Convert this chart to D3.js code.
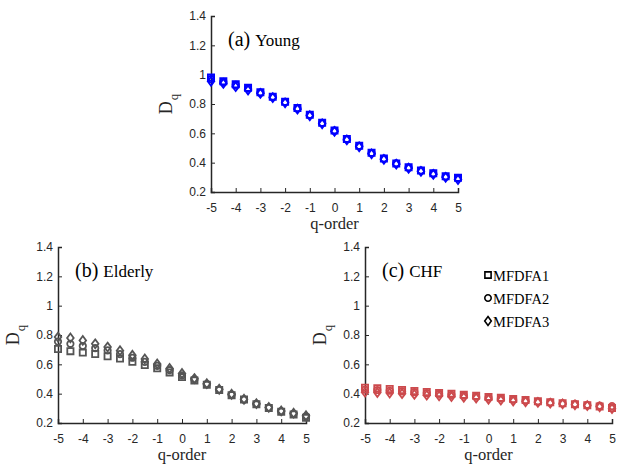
<!DOCTYPE html>
<html>
<head>
<meta charset="utf-8">
<script src="https://cdn.jsdelivr.net/npm/d3@7"></script>
<style>
  body { margin: 0; background: #fff; }
  svg { display: block; }
</style>
</head>
<body>
<svg id="chart" width="619" height="465"></svg>
<script>
// q values shared by all panels
const qValues = [-5, -4.5, -4, -3.5, -3, -2.5, -2, -1.5, -1, -0.5, 0, 0.5, 1, 1.5, 2, 2.5, 3, 3.5, 4, 4.5, 5];
const xTicks = [-5, -4, -3, -2, -1, 0, 1, 2, 3, 4, 5];
const yTicks = [0.2, 0.4, 0.6, 0.8, 1, 1.2, 1.4];
const methods = ["MFDFA1", "MFDFA2", "MFDFA3"];

// (a) Young
const youngM1 = [0.98, 0.955, 0.935, 0.91, 0.88, 0.85, 0.815, 0.772, 0.727, 0.672, 0.62, 0.562, 0.515, 0.467, 0.428, 0.395, 0.368, 0.347, 0.327, 0.307, 0.297];
const youngM2 = [0.97, 0.95, 0.93, 0.905, 0.878, 0.848, 0.813, 0.77, 0.725, 0.67, 0.618, 0.56, 0.515, 0.465, 0.428, 0.395, 0.367, 0.346, 0.325, 0.305, 0.295];
const youngM3 = [0.955, 0.94, 0.918, 0.895, 0.872, 0.843, 0.808, 0.765, 0.72, 0.665, 0.613, 0.555, 0.508, 0.46, 0.422, 0.39, 0.362, 0.34, 0.32, 0.3, 0.285];

// (b) Elderly
const elderlyM1 = [0.705, 0.69, 0.68, 0.67, 0.655, 0.64, 0.617, 0.595, 0.573, 0.545, 0.513, 0.49, 0.46, 0.425, 0.39, 0.36, 0.327, 0.302, 0.277, 0.258, 0.235];
const elderlyM2 = [0.755, 0.74, 0.725, 0.71, 0.695, 0.67, 0.645, 0.617, 0.59, 0.56, 0.525, 0.497, 0.465, 0.428, 0.393, 0.36, 0.33, 0.305, 0.28, 0.263, 0.245];
const elderlyM3 = [0.786, 0.78, 0.763, 0.74, 0.718, 0.693, 0.662, 0.637, 0.603, 0.572, 0.538, 0.503, 0.468, 0.43, 0.396, 0.362, 0.332, 0.306, 0.282, 0.267, 0.25];

// (c) CHF
const chfM1 = [0.44, 0.437, 0.432, 0.425, 0.418, 0.411, 0.405, 0.4, 0.392, 0.386, 0.378, 0.372, 0.363, 0.356, 0.348, 0.341, 0.334, 0.328, 0.321, 0.312, 0.302];
const chfM2 = [0.428, 0.425, 0.42, 0.415, 0.41, 0.404, 0.398, 0.392, 0.386, 0.38, 0.373, 0.367, 0.36, 0.353, 0.346, 0.34, 0.334, 0.33, 0.324, 0.318, 0.315];
const chfM3 = [0.41, 0.408, 0.404, 0.4, 0.395, 0.39, 0.385, 0.38, 0.375, 0.37, 0.362, 0.356, 0.35, 0.345, 0.34, 0.335, 0.33, 0.324, 0.318, 0.31, 0.298];

const panels = [
  { tag: "(a)", name: "Young", color: "#0000ff", series: [youngM1, youngM2, youngM3],
    box: { left: 211, right: 458, top: 16, bottom: 192 }, legend: false },
  { tag: "(b)", name: "Elderly", color: "#555555", series: [elderlyM1, elderlyM2, elderlyM3],
    box: { left: 58, right: 306, top: 247, bottom: 423 }, legend: false },
  { tag: "(c)", name: "CHF", color: "#cc4a4d", series: [chfM1, chfM2, chfM3],
    box: { left: 365, right: 612, top: 247, bottom: 423 }, legend: true }
];

const svg = d3.select("#chart");
const axisColor = "#262626";
const tickFont = "Liberation Sans, Arial, sans-serif";
const serifFont = "Liberation Serif, Times New Roman, serif";

function markerPath(kind) {
  if (kind === 0) return "M-3.1,-3.1H3.1V3.1H-3.1Z";
  if (kind === 1) return d3.symbol(d3.symbolCircle, 32)();
  return "M0,-4.4L3.3,0L0,4.4L-3.3,0Z";
}

panels.forEach(p => {
  const b = p.box;
  const x = d3.scaleLinear().domain([-5, 5]).range([b.left, b.right]);
  const y = d3.scaleLinear().domain([0.2, 1.4]).range([b.bottom, b.top]);
  const g = svg.append("g");

  // axes (ticks pointing inward, MATLAB style)
  const xAxis = d3.axisBottom(x).tickValues(xTicks).tickSize(-4).tickPadding(11).tickFormat(d => String(d));
  const yAxis = d3.axisLeft(y).tickValues(yTicks).tickSize(-4).tickPadding(5).tickFormat(d => String(d));

  const gx = g.append("g").attr("transform", `translate(0,${b.bottom})`).call(xAxis);
  const gy = g.append("g").attr("transform", `translate(${b.left},0)`).call(yAxis);
  [gx, gy].forEach(a => {
    a.select(".domain").attr("stroke", axisColor).attr("stroke-width", 1.5);
    a.selectAll(".tick line").attr("stroke", axisColor).attr("stroke-width", 1);
    a.selectAll("text").attr("fill", axisColor).attr("font-family", tickFont).attr("font-size", 12);
  });

  // axis labels
  g.append("text")
    .attr("x", (b.left + b.right) / 2)
    .attr("y", b.bottom + 37)
    .attr("text-anchor", "middle")
    .attr("font-family", serifFont)
    .attr("font-size", 16.5)
    .attr("fill", axisColor)
    .text("q-order");

  const yl = g.append("text")
    .attr("transform", `translate(${b.left - 39},${(b.top + b.bottom) / 2}) rotate(-90)`)
    .attr("text-anchor", "middle")
    .attr("font-family", serifFont)
    .attr("font-size", 18)
    .attr("fill", axisColor);
  yl.append("tspan").text("D");
  yl.append("tspan").attr("font-size", 13).attr("dx", 1).attr("dy", 6).text("q");

  // panel title
  const t = g.append("text")
    .attr("x", b.left + 17)
    .attr("y", b.top + 30)
    .attr("font-family", serifFont)
    .attr("fill", "#000");
  t.append("tspan").attr("font-size", 20).text(p.tag);
  t.append("tspan").attr("font-size", 17).attr("dx", 5).text(p.name);

  // markers
  p.series.forEach((vals, k) => {
    g.append("g")
      .selectAll("path")
      .data(vals.map((v, i) => [qValues[i], v]))
      .join("path")
      .attr("transform", d => `translate(${x(d[0])},${y(d[1])})`)
      .attr("d", markerPath(k))
      .attr("fill", "none")
      .attr("stroke", p.color)
      .attr("stroke-width", 1.8);
  });

  // legend
  if (p.legend) {
    const lg = g.append("g");
    methods.forEach((m, k) => {
      const ly = b.top + 28 + k * 23;
      lg.append("path")
        .attr("transform", `translate(${b.left + 123},${ly})`)
        .attr("d", markerPath(k))
        .attr("fill", "none")
        .attr("stroke", "#000")
        .attr("stroke-width", 1.6);
      lg.append("text")
        .attr("x", b.left + 128)
        .attr("y", ly + 6)
        .attr("font-family", serifFont)
        .attr("font-size", 14.5)
        .attr("fill", "#000")
        .text(m);
    });
  }
});
</script>
</body>
</html>
